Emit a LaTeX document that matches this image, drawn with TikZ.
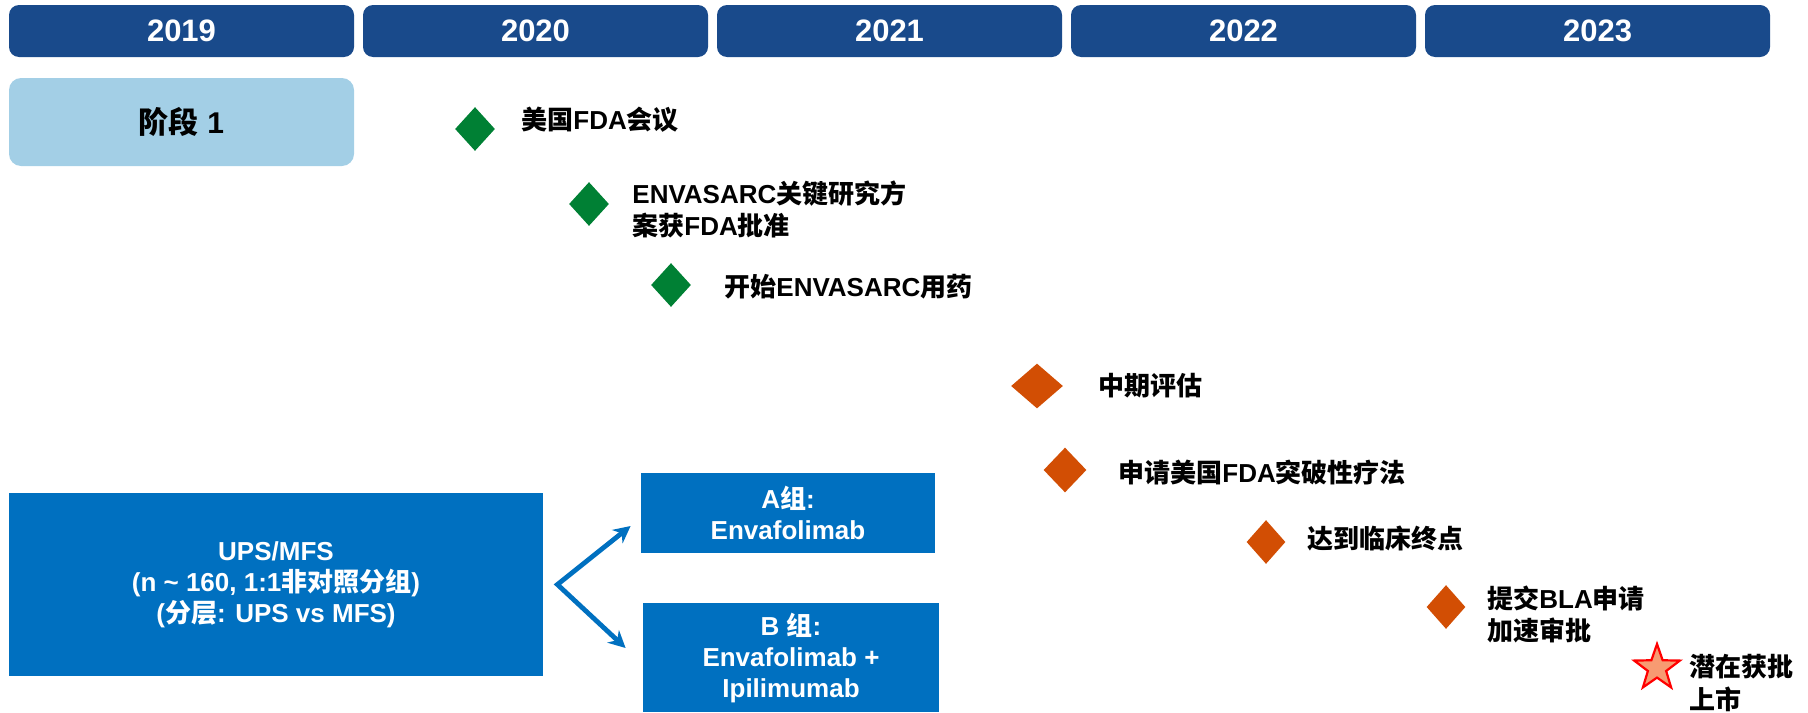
\documentclass[tikz,border=0pt]{standalone}
\usepackage{fontspec}
\setmainfont{Liberation Sans}
\newfontfamily\cjk{Noto Sans CJK SC}
\newcommand{\zh}[1]{{\cjk #1}}
\usetikzlibrary{arrows.meta, shapes.geometric}

\definecolor{yearblue}{RGB}{25,74,139}
\definecolor{phaseblue}{RGB}{163,207,230}
\definecolor{armblue}{RGB}{0,112,192}
\definecolor{markgreen}{RGB}{0,128,52}
\definecolor{markorange}{RGB}{210,78,4}
\definecolor{starfill}{RGB}{247,155,114}

\begin{document}
\begin{tikzpicture}[
    x=0.5pt, y=-0.5pt,
    yearbar/.style={
        rectangle, rounded corners=5pt, fill=yearblue, text=white,
        font=\bfseries\fontsize{15.5}{18}\selectfont,
        minimum width=172.5pt, minimum height=26pt, inner sep=0pt,
    },
    phasebox/.style={
        rectangle, rounded corners=6pt, fill=phaseblue,
        font=\bfseries\fontsize{15}{18}\selectfont,
        minimum width=172.5pt, minimum height=44pt, inner sep=0pt,
    },
    armbox/.style={
        rectangle, fill=armblue, text=white, align=center,
        font=\bfseries\fontsize{13}{15.5}\selectfont, inner sep=0pt,
    },
    greenmark/.style={
        diamond, fill=markgreen, inner sep=0pt,
        minimum width=20pt, minimum height=22pt,
    },
    orangemark/.style={
        diamond, fill=markorange, inner sep=0pt,
        minimum width=19.5pt, minimum height=22pt,
    },
    milestone/.style={
        anchor=west, align=left, inner sep=0pt,
        font=\bfseries\fontsize{13}{16}\selectfont,
    },
    armarrow/.style={
        {Stealth[length=8.5pt, width=8.5pt]}-{Stealth[length=8.5pt, width=8.5pt]},
        line width=2.4pt, armblue,
    },
]
\useasboundingbox (0,0) rectangle (1808,712);

% --- Year bars ---
\foreach \yr [count=\i from 0] in {2019,2020,2021,2022,2023}
    \node[yearbar] (y\yr) at (181.5+354*\i, 31) {\yr};

% --- Phase ---
\node[phasebox] (phase) at (181.5, 122) {\zh{阶段} 1};

% --- Green milestones ---
\node[greenmark] (g1) at (475, 129) {};
\node[milestone] (l1) at (521, 120) {\zh{美国}FDA\zh{会议}};

\node[greenmark] (g2) at (589, 204) {};
\node[milestone] (l2) at (632, 209) {ENVASARC\zh{关键研究方}\\\zh{案获}FDA\zh{批准}};

\node[greenmark] (g3) at (671, 285) {};
\node[milestone] (l3) at (724, 287) {\zh{开始}ENVASARC\zh{用药}};

% --- Orange milestones ---
\node[orangemark, minimum width=26pt, minimum height=22.5pt] (o1) at (1037, 386) {};
\node[milestone] (l4) at (1098, 386) {\zh{中期评估}};

\node[orangemark, minimum width=21.5pt, minimum height=22.5pt] (o2) at (1065, 470) {};
\node[milestone] (l5) at (1118, 473) {\zh{申请美国}FDA\zh{突破性疗法}};

\node[orangemark] (o3) at (1266, 542) {};
\node[milestone] (l6) at (1307, 539) {\zh{达到临床终点}};

\node[orangemark] (o4) at (1446, 607) {};
\node[milestone] (l7) at (1487, 614) {\zh{提交}BLA\zh{申请}\\\zh{加速审批}};

% --- Approval star ---
\node[star, star points=5, star point ratio=2.5, minimum size=24pt, inner sep=0pt,
      fill=starfill, draw=red, line width=1.1pt] (approval) at (1657, 668) {};
\node[milestone, font=\bfseries\fontsize{13}{16.5}\selectfont] (l8) at (1689, 683) {\zh{潜在获批}\\\zh{上市}};

% --- Study arms ---
\node[armbox, minimum width=267pt, minimum height=91.5pt] (ups) at (276, 584.5)
    {UPS/MFS\\(n \textasciitilde{} 160, 1:1\zh{非对照分组})\\(\zh{分层}: UPS vs MFS)};
\node[armbox, minimum width=147pt, minimum height=40pt] (armA) at (788, 513)
    {A\zh{组}:\\Envafolimab};
\node[armbox, minimum width=148pt, minimum height=54.5pt] (armB) at (791, 657.5)
    {B \zh{组}:\\Envafolimab +\\Ipilimumab};

\coordinate (split) at ([xshift=7pt]ups.east);
\coordinate (tipA) at ([xshift=-5pt, yshift=-6.5pt]armA.west);
\coordinate (tipB) at ([xshift=-8.5pt, yshift=4.75pt]armB.west);
\draw[armarrow] (tipA) -- (split) -- (tipB);

\end{tikzpicture}
\end{document}
